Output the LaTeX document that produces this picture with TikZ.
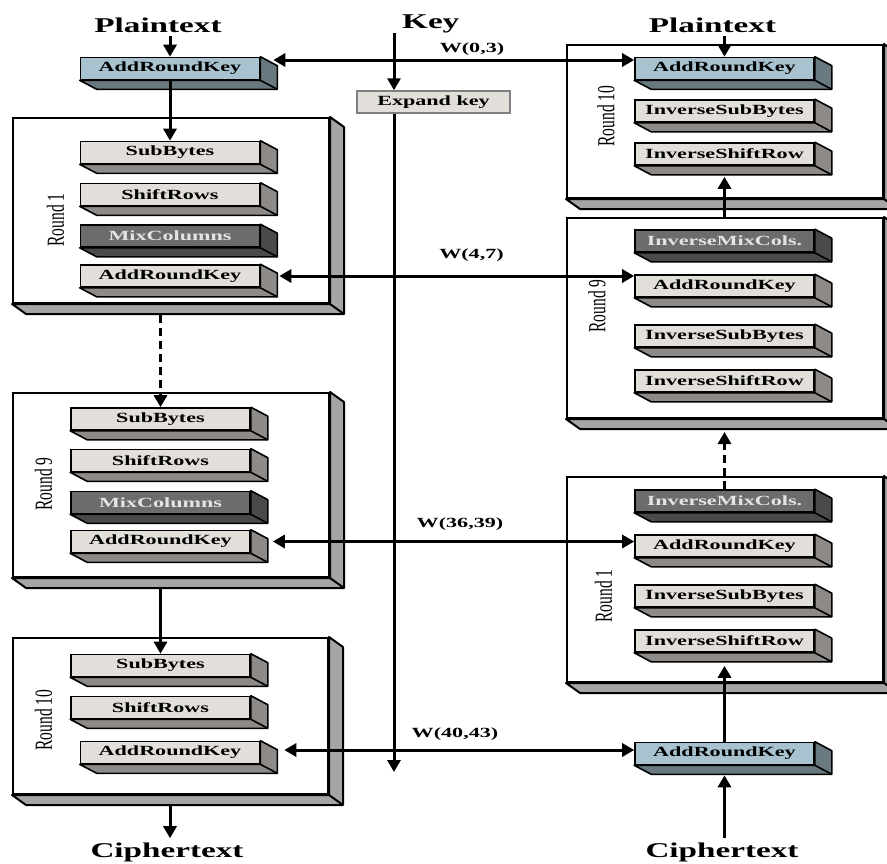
\documentclass[tikz,border=0pt]{standalone}
\usepackage{graphicx}
\usepackage{fontspec}
\setmainfont{Liberation Serif}
\usetikzlibrary{arrows.meta,calc}
\newcommand\sx[1]{\scalebox{1.58}[1]{#1}}
\newcommand\sy[1]{\scalebox{1}[1.58]{#1}}
\definecolor{gfront}{HTML}{E2DEDA}
\definecolor{gside}{HTML}{8E8A87}
\definecolor{gtext}{HTML}{000000}
\definecolor{bfront}{HTML}{A8C3CF}
\definecolor{bside}{HTML}{687980}
\definecolor{btext}{HTML}{000000}
\definecolor{dfront}{HTML}{6C6C6C}
\definecolor{dside}{HTML}{4A4A4A}
\definecolor{dtext}{HTML}{E4E4E4}
\definecolor{rside}{HTML}{A5A5A5}
\tikzset{
  opbox/.style={draw=black, line width=1.6pt, minimum width=179pt, minimum height=22pt,
    inner sep=0pt, font=\fontsize{14}{16}\selectfont\bfseries},
  roundbox/.style={draw=black, line width=2pt, fill=white, inner sep=0pt},
  arr/.style={line width=3pt, -{Triangle[length=12pt,width=13pt]}},
  biarr/.style={line width=3pt, {Triangle[length=12pt,width=13pt]}-{Triangle[length=12pt,width=13pt]}},
  dasharr/.style={arr, dash pattern=on 8pt off 5pt},
  lbl/.style={font=\fontsize{21}{24}\selectfont\bfseries, inner sep=0pt, anchor=base},
  wlbl/.style={font=\fontsize{14}{16}\selectfont\bfseries, inner sep=0pt, anchor=base},
  rlbl/.style={font=\fontsize{15.5}{17}\selectfont, rotate=90, inner sep=0pt},
}
% name, x, y, text, colour prefix
\newcommand\opbox[5]{%
  \node[opbox, fill=#5front, text=#5text] (#1) at (#2,#3) {\sx{#4}};
  \filldraw[fill=#5side, line width=1.6pt, line join=round]
    (#1.north east) -- ([shift={(17pt,-9pt)}]#1.north east)
    -- ([shift={(17pt,-9pt)}]#1.south east) -- ([shift={(17pt,-9pt)}]#1.south west)
    -- (#1.south west) -- (#1.south east) -- cycle;
  \draw[line width=1.6pt] (#1.south east) -- ([shift={(17pt,-9pt)}]#1.south east);
}
% name, cx, cy, w, h
\newcommand\rbox[5]{%
  \node[roundbox, minimum width=#4pt, minimum height=#5pt] (#1) at (#2,#3) {};
  \filldraw[fill=rside, line width=2pt, line join=round]
    (#1.north east) -- ([shift={(14pt,-10pt)}]#1.north east)
    -- ([shift={(14pt,-10pt)}]#1.south east) -- ([shift={(14pt,-10pt)}]#1.south west)
    -- (#1.south west) -- (#1.south east) -- cycle;
  \draw[line width=2pt] (#1.south east) -- ([shift={(14pt,-10pt)}]#1.south east);
}
\begin{document}
\begin{tikzpicture}[x=1pt,y=-1pt]
\useasboundingbox (0,0) rectangle (887,863);
\clip (0,0) rectangle (887,863);

% round boxes
\rbox{r1L}{171}{210.5}{316}{185}
\rbox{r9L}{171}{485}{316}{184}
\rbox{r10L}{170.5}{716}{315}{156}
\rbox{r10R}{725}{121.5}{316}{153}
\rbox{r9R}{725}{318}{316}{200}
\rbox{r1R}{725}{579.5}{316}{205}

\node[rlbl] (t1L) at (55.5,220) {\sy{Round 1}};
\node[rlbl] (t9L) at (43.5,484) {\sy{Round 9}};
\node[rlbl] (t10L) at (43.5,720) {\sy{Round 10}};
\node[rlbl] (t10R) at (606,116) {\sy{Round 10}};
\node[rlbl] (t9R) at (597,306) {\sy{Round 9}};
\node[rlbl] (t1R) at (603.5,596) {\sy{Round 1}};

% left column operations
\opbox{ark0L}{170}{68.5}{AddRoundKey}{b}
\opbox{sb1L}{170}{152.5}{SubBytes}{g}
\opbox{sr1L}{170}{194.5}{ShiftRows}{g}
\opbox{mc1L}{170}{236}{MixColumns}{d}
\opbox{ak1L}{170}{276}{AddRoundKey}{g}
\opbox{sb9L}{160.5}{419}{SubBytes}{g}
\opbox{sr9L}{160.5}{460.5}{ShiftRows}{g}
\opbox{mc9L}{160.5}{502.5}{MixColumns}{d}
\opbox{ak9L}{160.5}{541.5}{AddRoundKey}{g}
\opbox{sb10L}{160.5}{665.5}{SubBytes}{g}
\opbox{sr10L}{160.5}{707.5}{ShiftRows}{g}
\opbox{ak10L}{170}{752.5}{AddRoundKey}{g}

% right column operations
\opbox{ark0R}{724.5}{68.5}{AddRoundKey}{b}
\opbox{isb10R}{724.5}{111}{InverseSubBytes}{g}
\opbox{isr10R}{724.5}{154}{InverseShiftRow}{g}
\opbox{imc9R}{724.5}{241}{InverseMixCols.}{d}
\opbox{ak9R}{724.5}{286}{AddRoundKey}{g}
\opbox{isb9R}{724.5}{336}{InverseSubBytes}{g}
\opbox{isr9R}{724.5}{381}{InverseShiftRow}{g}
\opbox{imc1R}{724.5}{501}{InverseMixCols.}{d}
\opbox{ak1R}{724.5}{546}{AddRoundKey}{g}
\opbox{isb1R}{724.5}{596}{InverseSubBytes}{g}
\opbox{isr1R}{724.5}{641}{InverseShiftRow}{g}
\opbox{ark43R}{724.5}{753.5}{AddRoundKey}{b}

% labels
\node[lbl] (ptL) at (158,32) {\sx{Plaintext}};
\node[lbl] (ptR) at (712.5,32) {\sx{Plaintext}};
\node[lbl] (ctL) at (167,857) {\sx{Ciphertext}};
\node[lbl] (ctR) at (722,857) {\sx{Ciphertext}};
\node[lbl, anchor=base west] (key) at (402,28) {\sx{Key}};
\node[draw=gray, line width=1.5pt, fill=gfront, minimum width=153pt, minimum height=22pt,
  inner sep=0pt, font=\fontsize{14}{16}\selectfont\bfseries] (expand) at (433.5,102) {\sx{Expand key}};
\node[wlbl] (w03) at (472,52) {\sx{W(0,3)}};
\node[wlbl] (w47) at (471.5,258) {\sx{W(4,7)}};
\node[wlbl] (w3639) at (460,527) {\sx{W(36,39)}};
\node[wlbl] (w4043) at (455,737) {\sx{W(40,43)}};

% key path
\coordinate (kend) at (394,772);
\draw[arr] (kend |- key.south) -- (kend |- expand.north);
\draw[arr] (kend |- expand.south) -- (kend);

% left flow
\path (ark0L.north |- ptL.south) ++(0,4) coordinate (a0);
\draw[arr] (a0) -- (ark0L.north);
\draw[arr] (ark0L.south) -- (sb1L.north);
\path (sb9L.north |- r1L.south) ++(0,11) coordinate (d1);
\draw[dasharr] (d1) -- (sb9L.north);
\path (sb10L.north |- r9L.south) ++(0,11) coordinate (d2);
\draw[arr] (d2) -- (sb10L.north);
\path (ak10L.south |- r10L.south) ++(0,10) coordinate (d3);
\path (d3 |- ctL.north) ++(0,-4) coordinate (d4);
\draw[arr] (d3) -- (d4);

% right flow
\path (ark0R.north |- ptR.south) ++(0,4) coordinate (a1);
\draw[arr] (a1) -- (ark0R.north);
\path (isr10R.south) ++(0,11) coordinate (u1);
\draw[arr] (u1 |- r9R.north) -- (u1);
\path (r9R.south -| imc1R.north) ++(0,13) coordinate (u2);
\draw[dasharr] (imc1R.north) -- (u2);
\path (isr1R.south) ++(0,13) coordinate (u3);
\draw[arr] (ark43R.north) -- (u3);
\path (ark43R.south) ++(0,10) coordinate (u4);
\path (u4 |- ctR.north) ++(0,-4) coordinate (u5);
\draw[arr] (u5) -- (u4);

% round keys
\draw[biarr] ([xshift=13pt,yshift=8.5pt]ark0L.east) -- ([yshift=8.5pt]ark0R.west);
\draw[biarr] ([xshift=19pt]ak1L.east) -- ([yshift=10pt]ak9R.west);
\draw[biarr] ([xshift=22pt]ak9L.east) -- ([yshift=4.5pt]ak1R.west);
\draw[biarr] ([xshift=24pt,yshift=2.5pt]ak10L.east) -- ([yshift=3.5pt]ark43R.west);
\end{tikzpicture}
\end{document}
